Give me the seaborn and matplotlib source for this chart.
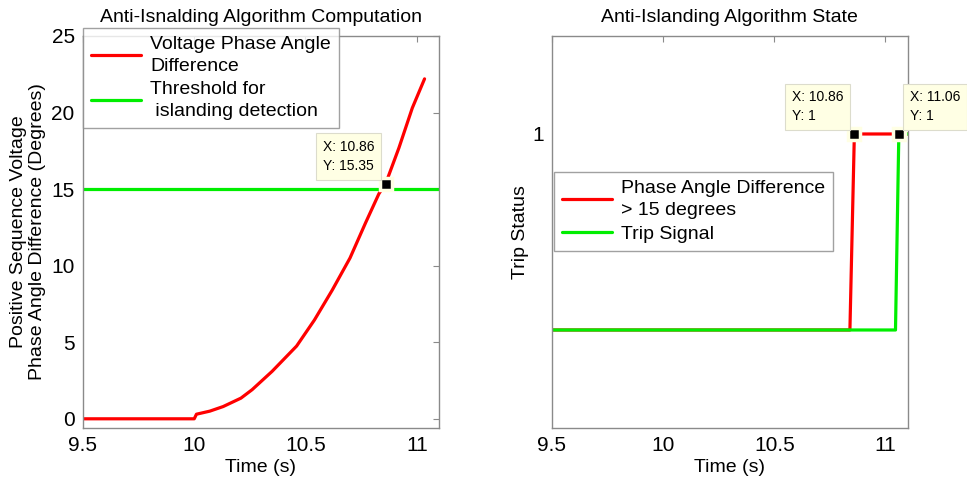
import matplotlib
matplotlib.use("Agg")
import matplotlib.pyplot as plt
import seaborn as sns
from matplotlib.ticker import FormatStrFormatter

# left panel: phase angle difference (deg) vs time (s)
t_angle = [9.5, 10.0, 10.01, 10.07, 10.13, 10.21, 10.26, 10.35, 10.46, 10.54,
           10.62, 10.70, 10.77, 10.83, 10.86, 10.92, 10.98, 11.035]
angle = [0, 0, 0.3, 0.5, 0.8, 1.35, 1.9, 3.1, 4.75, 6.45,
         8.4, 10.5, 12.8, 14.7, 15.35, 17.7, 20.3, 22.2]
t_thresh = [9.5, 11.1]
thresh = [15, 15]

# right panel: trip states
t_phase_flag = [9.5, 10.84, 10.86, 11.06, 11.1]
phase_flag = [0, 0, 1, 1, 1]
t_trip = [9.5, 11.045, 11.06, 11.1]
trip = [0, 0, 1, 1]

tips_left = [(10.86, 15.35)]
tips_right = [(10.86, 1), (11.06, 1)]

sns.set_theme(style="white")
plt.rcParams["font.family"] = ["Liberation Sans", "DejaVu Sans"]
plt.rcParams["text.color"] = "black"
plt.rcParams["axes.labelcolor"] = "black"

RED = "#FF0000"
GREEN = "#00EE00"
TIPBG = "#FFFFE4"

fig = plt.figure(figsize=(9.67, 4.83), dpi=100)
ax1 = fig.add_axes([0.0858, 0.1139, 0.3682, 0.8116])
ax2 = fig.add_axes([0.5708, 0.1139, 0.3679, 0.8116])


def style_axes(ax):
    for s in ax.spines.values():
        s.set_color("#8a8a8a")
        s.set_linewidth(1.0)
    ax.tick_params(direction="in", length=4, width=0.8, color="#8a8a8a",
                   top=True, right=True, labelsize=15, labelcolor="black",
                   pad=6)
    ax.xaxis.set_major_formatter(FormatStrFormatter("%g"))
    ax.yaxis.set_major_formatter(FormatStrFormatter("%g"))


def datatip(ax, x, y, side):
    ax.plot([x], [y], marker="s", ms=8.3, mfc="black", mec=TIPBG, mew=2.5,
            zorder=6, clip_on=False)
    txt = f"X: {x:g}\nY: {y:g}"
    if side == "left":
        off, ha = (-8, 8), "right"
    else:
        off, ha = (8, 8), "left"
    ax.annotate(txt, xy=(x, y), xytext=off, textcoords="offset points",
                ha=ha, va="bottom", multialignment="left", fontsize=10,
                linespacing=1.4, annotation_clip=False, zorder=7,
                bbox=dict(boxstyle="square,pad=0.5", fc=TIPBG, ec="#dcdccc", lw=0.8))


def legend(ax, anchor):
    leg = ax.legend(loc="upper left", bbox_to_anchor=anchor, fontsize=14,
                    frameon=True, fancybox=False, edgecolor="#8a8a8a",
                    handlelength=2.6, borderpad=0.4, labelspacing=0.3,
                    handletextpad=0.45, borderaxespad=0)
    leg.get_frame().set_linewidth(1.0)
    for t in leg.get_texts():
        t.set_linespacing(1.4)
    leg.set_zorder(5)
    return leg


# ---- left panel
sns.lineplot(x=t_angle, y=angle, ax=ax1, color=RED, lw=2.3, estimator=None,
             label="Voltage Phase Angle\nDifference")
sns.lineplot(x=t_thresh, y=thresh, ax=ax1, color=GREEN, lw=2.3, estimator=None,
             label="Threshold for\n islanding detection")
ax1.set_xlim(9.5, 11.1)
ax1.set_ylim(-0.6, 25)
ax1.set_xticks([9.5, 10, 10.5, 11])
ax1.set_yticks([0, 5, 10, 15, 20, 25])
style_axes(ax1)
ax1.set_title("Anti-Isnalding Algorithm Computation", fontsize=14, pad=10)
ax1.set_xlabel("Time (s)", fontsize=14, labelpad=3)
ax1.set_ylabel("Positive Sequence Voltage\nPhase Angle Difference (Degrees)",
               fontsize=14, labelpad=4, linespacing=1.1)
legend(ax1, (0.0, 1.02))
for x, y in tips_left:
    datatip(ax1, x, y, "left")

# ---- right panel
sns.lineplot(x=t_phase_flag, y=phase_flag, ax=ax2, color=RED, lw=2.3,
             estimator=None, label="Phase Angle Difference\n> 15 degrees")
sns.lineplot(x=t_trip, y=trip, ax=ax2, color=GREEN, lw=2.3, estimator=None,
             label="Trip Signal")
ax2.set_xlim(9.5, 11.1)
ax2.set_ylim(-0.5, 1.5)
ax2.set_xticks([9.5, 10, 10.5, 11])
ax2.set_yticks([1])
style_axes(ax2)
ax2.set_title("Anti-Islanding Algorithm State", fontsize=14, pad=10)
ax2.set_xlabel("Time (s)", fontsize=14, labelpad=3)
ax2.set_ylabel("Trip Status", fontsize=14, labelpad=2)
legend(ax2, (0.005, 0.652))
datatip(ax2, tips_right[0][0], tips_right[0][1], "left")
datatip(ax2, tips_right[1][0], tips_right[1][1], "right")

fig.savefig("out.png", dpi=100)
